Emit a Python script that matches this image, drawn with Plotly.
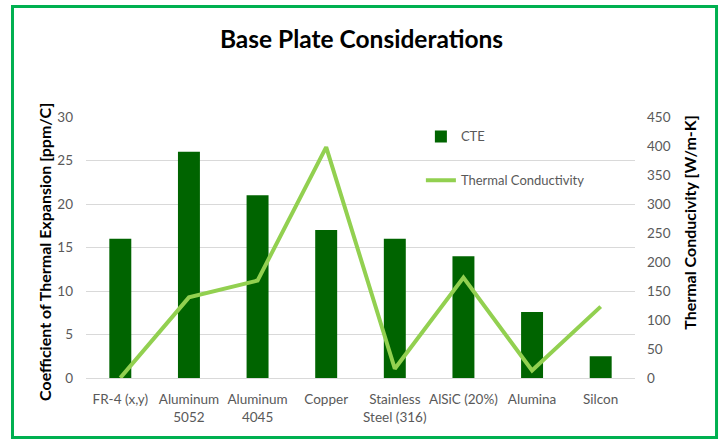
import plotly.graph_objects as go

materials = ["FR-4 (x,y)", "Aluminum<br>5052", "Aluminum<br>4045", "Copper",
             "Stainless<br>Steel (316)", "AlSiC (20%)", "Alumina", "Silcon"]
cte = [16, 26, 21, 17, 16, 14, 7.6, 2.5]            # ppm/C
conductivity = [0.3, 139, 168, 398, 16, 173, 13, 123]  # W/m-K

font_family = "Lato, Carlito, Calibri, sans-serif"
tick_color = "#595959"

fig = go.Figure()
fig.add_trace(go.Bar(
    x=materials, y=cte, name="CTE",
    marker=dict(color="#006400", line=dict(width=0)),
    legendgroup="a",
))
fig.add_trace(go.Scatter(
    x=materials, y=conductivity, name="Thermal Conductivity",
    mode="lines", line=dict(color="#92D050", width=4),
    yaxis="y2", legendgroup="b",
))

axis_title_font = dict(family=font_family, size=16, color="#000000")

fig.update_layout(
    width=723, height=440,
    margin=dict(l=86, r=88, t=117, b=62),
    paper_bgcolor="white", plot_bgcolor="white",
    bargap=0.68,
    font=dict(family=font_family, size=13, color=tick_color),
    title=dict(text="<b>Base Plate Considerations</b>", x=0.5, xanchor="center",
               y=0.91, yanchor="middle",
               font=dict(family=font_family, size=24.5, color="#000000")),
    xaxis=dict(showgrid=False, showline=True, linecolor="#d9d9d9", linewidth=1,
               ticks="", ticklabelstandoff=9,
               tickfont=dict(size=13.5, color=tick_color)),
    yaxis=dict(range=[0, 30], dtick=5, showgrid=True, gridcolor="#d9d9d9",
               zeroline=False, showline=False, ticks="", ticklabelstandoff=12,
               tickfont=dict(size=13.5, color=tick_color)),
    yaxis2=dict(range=[0, 450], dtick=50, overlaying="y", side="right",
                showgrid=False, zeroline=False, showline=False, ticks="",
                ticklabelstandoff=11,
                tickfont=dict(size=13.5, color=tick_color)),
    legend=dict(x=0.61, y=0.983, xanchor="left", yanchor="top",
                bgcolor="rgba(0,0,0,0)", traceorder="grouped",
                tracegroupgap=24, font=dict(size=13, color=tick_color)),
    annotations=[
        dict(text="<b>Coefficient of Thermal Expansion [ppm/C]</b>",
             xref="paper", yref="paper", x=-0.0747, y=0.483,
             xanchor="center", yanchor="middle", textangle=-90,
             showarrow=False, font=axis_title_font),
        dict(text="<b>Thermal Conducivity [W/m-K]</b>",
             xref="paper", yref="paper", x=1.100, y=0.598,
             xanchor="center", yanchor="middle", textangle=-90,
             showarrow=False, font=axis_title_font),
    ],
    shapes=[dict(type="rect", xref="paper", yref="paper",
                 x0=-0.1339, x1=1.1485, y0=-0.228, y1=1.4234,
                 line=dict(color="#00B050", width=3), layer="above")],
)

fig.write_html("out.html")
